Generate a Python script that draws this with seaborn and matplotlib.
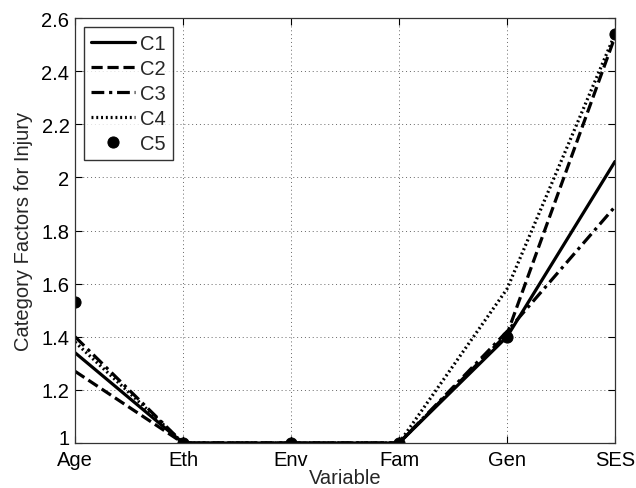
import matplotlib
matplotlib.use("Agg")
import matplotlib.pyplot as plt
import matplotlib.transforms as mtransforms
import seaborn as sns
import pandas as pd

categories = ["Age", "Eth", "Env", "Fam", "Gen", "SES"]
c1 = [1.34, 1.0, 1.0, 1.0, 1.40, 2.06]
c2 = [1.27, 1.0, 1.0, 1.0, 1.41, 2.53]
c3 = [1.40, 1.0, 1.0, 1.0, 1.42, 1.89]
c4 = [1.38, 1.0, 1.0, 1.0, 1.58, 2.54]
c5 = [1.53, 1.0, 1.0, 1.0, 1.40, 2.54]
yticks = [1, 1.2, 1.4, 1.6, 1.8, 2, 2.2, 2.4, 2.6]
ytick_labels = ["1", "1.2", "1.4", "1.6", "1.8", "2", "2.2", "2.4", "2.6"]

sns.set_style("white")
plt.rcParams['font.family'] = ['Liberation Sans', 'DejaVu Sans']

fig = plt.figure(figsize=(6.36, 4.89), dpi=100)
ax = fig.add_axes([0.118, 0.092, 0.849, 0.869])

xpos = list(range(len(categories)))
styles = {"C1": "-", "C2": (0, (3.5, 1.5)), "C3": (0, (4, 1.5, 1, 1.5)), "C4": (0, (0.6, 0.9))}
series = {"C1": c1, "C2": c2, "C3": c3, "C4": c4}
for name, vals in series.items():
    df = pd.DataFrame({"x": xpos, "y": vals})
    sns.lineplot(data=df, x="x", y="y", ax=ax, color="black", linewidth=2.3,
                 linestyle=styles[name], label=name)
df5 = pd.DataFrame({"x": xpos, "y": c5})
sns.lineplot(data=df5, x="x", y="y", ax=ax, color="black", linestyle="none",
             marker="o", markersize=8, markeredgecolor="black", label="C5")

fs = 14.5
ax.set_xlim(0, 5)
ax.set_ylim(1, 2.6)
ax.set_xticks(xpos)
ax.set_xticklabels(categories, fontsize=fs)
ax.set_yticks(yticks)
ax.set_yticklabels(ytick_labels, fontsize=fs)
ax.set_xlabel("Variable", fontsize=fs, labelpad=-1)
ax.set_ylabel("Category Factors for Injury", fontsize=fs, labelpad=6)
ax.grid(True, linestyle=(0, (1, 3)), color="#666666", linewidth=0.7)
ax.tick_params(axis="both", direction="in", length=5, width=0.8, colors="black",
               top=True, right=True, bottom=True, left=True)
ax.tick_params(axis="x", pad=5)
ax.tick_params(axis="y", pad=4)
for s in ax.spines.values():
    s.set_visible(True)
    s.set_color("#333333")
    s.set_linewidth(0.9)

# nudge the bottom "1" label up so it doesn't collide with "Age"
lbl = ax.get_yticklabels()[0]
lbl.set_transform(lbl.get_transform() + mtransforms.ScaledTranslation(0, 7 / 100, fig.dpi_scale_trans))

leg = ax.legend(loc="upper left", fontsize=fs, frameon=True, fancybox=False,
                handlelength=2.2, handletextpad=0.25, borderpad=0.35,
                labelspacing=0.3, borderaxespad=0.45)
leg.get_frame().set_edgecolor("black")
leg.get_frame().set_linewidth(1.0)

fig.savefig("out.png", dpi=100)
